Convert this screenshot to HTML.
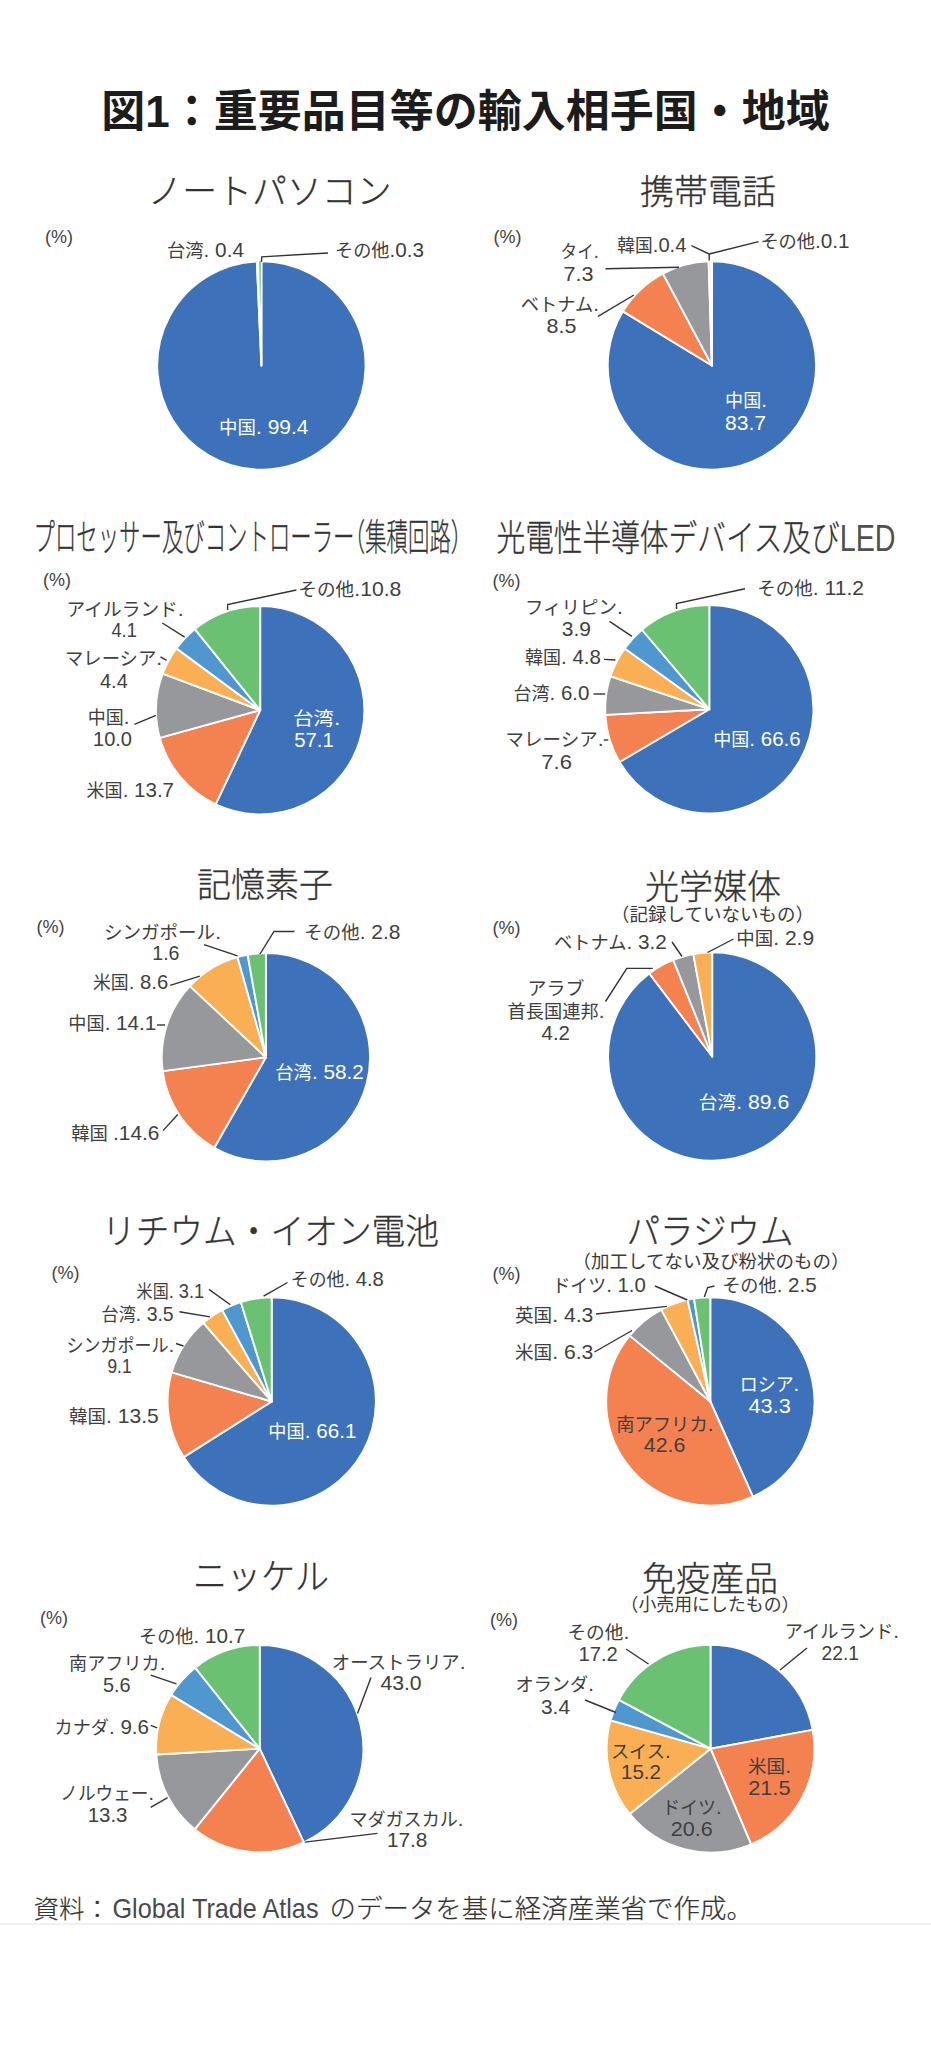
<!DOCTYPE html>
<html lang="ja"><head><meta charset="utf-8"><title>図1：重要品目等の輸入相手国・地域</title>
<style>
html,body{margin:0;padding:0;background:#fff}
body{width:931px;height:2048px;overflow:hidden;font-family:"Liberation Sans","Noto Sans CJK JP",sans-serif}
svg{display:block}
text{font-family:"Liberation Sans","Noto Sans CJK JP",sans-serif}
.h1{font-weight:700;font-size:44px;fill:#1c1c1c}
.tt{font-weight:300;fill:#333;stroke:#333;stroke-width:.3}
.sb{font-weight:400;fill:#3a3a3a}
.lb{font-weight:400}
.lb .c{font-size:18.5px;font-weight:400;stroke-width:0}
.lb .l{font-size:21px;stroke-width:0}
.pc{font-size:19px;fill:#444;font-weight:300}
.ld{fill:none;stroke:#333;stroke-width:1.4}
.ft{font-weight:300;fill:#333;stroke:#333;stroke-width:.2}
</style></head><body>
<svg width="931" height="2048" viewBox="0 0 931 2048">
<rect x="0" y="0" width="931" height="2048" fill="#fff"/>
<text x="465.5" y="127" text-anchor="middle" class="h1">図1：重要品目等の輸入相手国・地域</text>
<text x="269.5" y="204" text-anchor="middle" class="tt" font-size="35.5" textLength="244" lengthAdjust="spacingAndGlyphs">ノートパソコン</text>
<text x="45.0" y="242.7" class="pc" textLength="28" lengthAdjust="spacingAndGlyphs">(%)</text>
<g stroke="#fff" stroke-width="1.9" stroke-linejoin="round"><path d="M261.40 365.50 L261.40 261.35 A104.15 104.15 0 1 1 256.83 261.45 Z" fill="#3d71b9"/><path d="M261.40 365.50 L256.83 261.45 A104.15 104.15 0 0 1 259.44 261.37 Z" fill="#fff"/><path d="M261.40 365.50 L259.44 261.37 A104.15 104.15 0 0 1 261.40 261.35 Z" fill="#6bc172"/></g>
<polygon points="259.2,261.5 260.8,261.5 260.5,300 260.1,310" fill="#6bc172"/>
<polyline points="328,253 261.8,256.8 261.4,262" class="ld"/>
<text x="167.0" y="257" fill="#404040" stroke="#404040" class="lb" textLength="77.0" lengthAdjust="spacingAndGlyphs"><tspan class="c">台湾</tspan><tspan class="l">. 0.4</tspan></text>
<text x="335.0" y="257" fill="#404040" stroke="#404040" class="lb" textLength="89.0" lengthAdjust="spacingAndGlyphs"><tspan class="c">その他</tspan><tspan class="l">.0.3</tspan></text>
<text x="219.0" y="434" fill="#fff" stroke="#fff" class="lb" textLength="89.5" lengthAdjust="spacingAndGlyphs"><tspan class="c">中国</tspan><tspan class="l">. 99.4</tspan></text>
<text x="708" y="204" text-anchor="middle" class="tt" font-size="34">携帯電話</text>
<text x="493.5" y="242.7" class="pc" textLength="28" lengthAdjust="spacingAndGlyphs">(%)</text>
<g stroke="#fff" stroke-width="1.9" stroke-linejoin="round"><path d="M711.90 365.50 L711.90 261.35 A104.15 104.15 0 1 1 622.93 311.36 Z" fill="#3d71b9"/><path d="M711.90 365.50 L622.93 311.36 A104.15 104.15 0 0 1 662.88 273.61 Z" fill="#f48150"/><path d="M711.90 365.50 L662.88 273.61 A104.15 104.15 0 0 1 708.63 261.40 Z" fill="#97989c"/><path d="M711.90 365.50 L708.63 261.40 A104.15 104.15 0 0 1 711.25 261.35 Z" fill="#faaf55"/><path d="M711.90 365.50 L711.25 261.35 A104.15 104.15 0 0 1 711.90 261.35 Z" fill="#4f98cf"/></g>
<polyline points="605.5,268.8 679,267.3" class="ld"/>
<polyline points="691.5,245.6 709.2,254 709.2,260.4" class="ld"/>
<polyline points="758.6,241.6 709.2,254" class="ld"/>
<polyline points="598,316.3 634,295" class="ld"/>
<text x="560.6" y="258" fill="#404040" stroke="#404040" class="lb" textLength="38.4" lengthAdjust="spacingAndGlyphs"><tspan class="c">タイ</tspan><tspan class="l">.</tspan></text>
<text x="563.6" y="281" fill="#404040" stroke="#404040" class="lb" textLength="30.0" lengthAdjust="spacingAndGlyphs"><tspan class="l">7.3</tspan></text>
<text x="617.3" y="252" fill="#404040" stroke="#404040" class="lb" textLength="69.1" lengthAdjust="spacingAndGlyphs"><tspan class="c">韓国</tspan><tspan class="l">.0.4</tspan></text>
<text x="760.4" y="248" fill="#404040" stroke="#404040" class="lb" textLength="89.2" lengthAdjust="spacingAndGlyphs"><tspan class="c">その他</tspan><tspan class="l">.0.1</tspan></text>
<text x="520.7" y="311" fill="#404040" stroke="#404040" class="lb" textLength="78.3" lengthAdjust="spacingAndGlyphs"><tspan class="c">ベトナム</tspan><tspan class="l">.</tspan></text>
<text x="546.5" y="333" fill="#404040" stroke="#404040" class="lb" textLength="29.9" lengthAdjust="spacingAndGlyphs"><tspan class="l">8.5</tspan></text>
<text x="725.0" y="407" fill="#fff" stroke="#fff" class="lb" textLength="42.0" lengthAdjust="spacingAndGlyphs"><tspan class="c">中国</tspan><tspan class="l">.</tspan></text>
<text x="725.0" y="430" fill="#fff" stroke="#fff" class="lb" textLength="41.0" lengthAdjust="spacingAndGlyphs"><tspan class="l">83.7</tspan></text>
<text x="247.5" y="551" text-anchor="middle" class="tt" font-size="37" textLength="428" lengthAdjust="spacingAndGlyphs">プロセッサー及びコントローラー<tspan style="font-feature-settings:'halt'">（</tspan>集積回路<tspan style="font-feature-settings:'halt'">）</tspan></text>
<text x="43.0" y="585.7" class="pc" textLength="28" lengthAdjust="spacingAndGlyphs">(%)</text>
<g stroke="#fff" stroke-width="1.9" stroke-linejoin="round"><path d="M260.20 710.20 L260.20 606.05 A104.15 104.15 0 1 1 215.60 804.32 Z" fill="#3d71b9"/><path d="M260.20 710.20 L215.60 804.32 A104.15 104.15 0 0 1 159.78 737.81 Z" fill="#f48150"/><path d="M260.20 710.20 L159.78 737.81 A104.15 104.15 0 0 1 162.70 673.57 Z" fill="#97989c"/><path d="M260.20 710.20 L162.70 673.57 A104.15 104.15 0 0 1 176.38 648.38 Z" fill="#faaf55"/><path d="M260.20 710.20 L176.38 648.38 A104.15 104.15 0 0 1 194.88 629.08 Z" fill="#4f98cf"/><path d="M260.20 710.20 L194.88 629.08 A104.15 104.15 0 0 1 260.20 606.05 Z" fill="#6bc172"/></g>
<polyline points="296.4,590 227.6,604.5 227.6,610" class="ld"/>
<polyline points="162.3,623 184.7,637.2" class="ld"/>
<polyline points="160.5,656.8 166.6,660.4" class="ld"/>
<polyline points="134.4,724.3 156,715.3" class="ld"/>
<text x="298.3" y="596" fill="#404040" stroke="#404040" class="lb" textLength="103.1" lengthAdjust="spacingAndGlyphs"><tspan class="c">その他</tspan><tspan class="l">.10.8</tspan></text>
<text x="66.6" y="615.5" fill="#404040" stroke="#404040" class="lb" textLength="117.1" lengthAdjust="spacingAndGlyphs"><tspan class="c">アイルランド</tspan><tspan class="l">.</tspan></text>
<text x="111.5" y="636.5" fill="#404040" stroke="#404040" class="lb" textLength="25.3" lengthAdjust="spacingAndGlyphs"><tspan class="l">4.1</tspan></text>
<text x="65.0" y="665" fill="#404040" stroke="#404040" class="lb" textLength="97.0" lengthAdjust="spacingAndGlyphs"><tspan class="c">マレーシア</tspan><tspan class="l">.</tspan></text>
<text x="100.0" y="687.5" fill="#404040" stroke="#404040" class="lb" textLength="27.8" lengthAdjust="spacingAndGlyphs"><tspan class="l">4.4</tspan></text>
<text x="87.8" y="723.5" fill="#404040" stroke="#404040" class="lb" textLength="41.7" lengthAdjust="spacingAndGlyphs"><tspan class="c">中国</tspan><tspan class="l">.</tspan></text>
<text x="93.0" y="745.7" fill="#404040" stroke="#404040" class="lb" textLength="39.0" lengthAdjust="spacingAndGlyphs"><tspan class="l">10.0</tspan></text>
<text x="86.5" y="796.5" fill="#404040" stroke="#404040" class="lb" textLength="87.5" lengthAdjust="spacingAndGlyphs"><tspan class="c">米国</tspan><tspan class="l">. 13.7</tspan></text>
<text x="293.3" y="725" fill="#fff" stroke="#fff" class="lb" textLength="47.0" lengthAdjust="spacingAndGlyphs"><tspan class="c">台湾</tspan><tspan class="l">.</tspan></text>
<text x="294.3" y="747" fill="#fff" stroke="#fff" class="lb" textLength="39.5" lengthAdjust="spacingAndGlyphs"><tspan class="l">57.1</tspan></text>
<text x="696" y="551" text-anchor="middle" class="tt" font-size="36" textLength="399" lengthAdjust="spacingAndGlyphs">光電性半導体デバイス及び<tspan fill="#505050" stroke="none">LED</tspan></text>
<text x="492.5" y="586.7" class="pc" textLength="28" lengthAdjust="spacingAndGlyphs">(%)</text>
<g stroke="#fff" stroke-width="1.9" stroke-linejoin="round"><path d="M709.30 709.20 L709.30 605.05 A104.15 104.15 0 1 1 619.54 762.03 Z" fill="#3d71b9"/><path d="M709.30 709.20 L619.54 762.03 A104.15 104.15 0 0 1 605.31 714.92 Z" fill="#f48150"/><path d="M709.30 709.20 L605.31 714.92 A104.15 104.15 0 0 1 610.49 676.27 Z" fill="#97989c"/><path d="M709.30 709.20 L610.49 676.27 A104.15 104.15 0 0 1 624.72 648.43 Z" fill="#faaf55"/><path d="M709.30 709.20 L624.72 648.43 A104.15 104.15 0 0 1 641.96 629.74 Z" fill="#4f98cf"/><path d="M709.30 709.20 L641.96 629.74 A104.15 104.15 0 0 1 709.30 605.05 Z" fill="#6bc172"/></g>
<polyline points="745,588.8 676.5,603.5 676.5,609" class="ld"/>
<polyline points="609.5,621.4 631.9,636.3" class="ld"/>
<polyline points="604,659.4 615.4,660" class="ld"/>
<polyline points="593.5,694 605.2,694" class="ld"/>
<polyline points="603.8,740 608.3,740" class="ld"/>
<text x="757.2" y="595" fill="#404040" stroke="#404040" class="lb" textLength="106.8" lengthAdjust="spacingAndGlyphs"><tspan class="c">その他</tspan><tspan class="l">. 11.2</tspan></text>
<text x="525.0" y="614" fill="#404040" stroke="#404040" class="lb" textLength="97.8" lengthAdjust="spacingAndGlyphs"><tspan class="c">フィリピン</tspan><tspan class="l">.</tspan></text>
<text x="561.8" y="636" fill="#404040" stroke="#404040" class="lb" textLength="29.2" lengthAdjust="spacingAndGlyphs"><tspan class="l">3.9</tspan></text>
<text x="525.0" y="664.3" fill="#404040" stroke="#404040" class="lb" textLength="75.9" lengthAdjust="spacingAndGlyphs"><tspan class="c">韓国</tspan><tspan class="l">. 4.8</tspan></text>
<text x="513.5" y="700" fill="#404040" stroke="#404040" class="lb" textLength="75.9" lengthAdjust="spacingAndGlyphs"><tspan class="c">台湾</tspan><tspan class="l">. 6.0</tspan></text>
<text x="505.6" y="745.8" fill="#404040" stroke="#404040" class="lb" textLength="97.9" lengthAdjust="spacingAndGlyphs"><tspan class="c">マレーシア</tspan><tspan class="l">.</tspan></text>
<text x="541.3" y="769.4" fill="#404040" stroke="#404040" class="lb" textLength="30.6" lengthAdjust="spacingAndGlyphs"><tspan class="l">7.6</tspan></text>
<text x="713.2" y="746" fill="#fff" stroke="#fff" class="lb" textLength="87.5" lengthAdjust="spacingAndGlyphs"><tspan class="c">中国</tspan><tspan class="l">. 66.6</tspan></text>
<text x="265" y="897" text-anchor="middle" class="tt" font-size="34">記憶素子</text>
<text x="36.5" y="932.7" class="pc" textLength="28" lengthAdjust="spacingAndGlyphs">(%)</text>
<g stroke="#fff" stroke-width="1.9" stroke-linejoin="round"><path d="M265.90 1057.30 L265.90 953.15 A104.15 104.15 0 1 1 214.25 1147.74 Z" fill="#3d71b9"/><path d="M265.90 1057.30 L214.25 1147.74 A104.15 104.15 0 0 1 162.68 1071.18 Z" fill="#f48150"/><path d="M265.90 1057.30 L162.68 1071.18 A104.15 104.15 0 0 1 189.92 986.07 Z" fill="#97989c"/><path d="M265.90 1057.30 L189.92 986.07 A104.15 104.15 0 0 1 237.44 957.11 Z" fill="#faaf55"/><path d="M265.90 1057.30 L237.44 957.11 A104.15 104.15 0 0 1 247.65 954.76 Z" fill="#4f98cf"/><path d="M265.90 1057.30 L247.65 954.76 A104.15 104.15 0 0 1 265.90 953.15 Z" fill="#6bc172"/></g>
<polyline points="204,944.6 237.6,955.8" class="ld"/>
<polyline points="294.5,931.5 274,931.5 260,954" class="ld"/>
<polyline points="170.2,985.4 199.8,976.2" class="ld"/>
<polyline points="157,1025 165,1025" class="ld"/>
<polyline points="163,1130.6 177.8,1114.5" class="ld"/>
<text x="104.0" y="939" fill="#404040" stroke="#404040" class="lb" textLength="117.0" lengthAdjust="spacingAndGlyphs"><tspan class="c">シンガポール</tspan><tspan class="l">.</tspan></text>
<text x="152.3" y="960" fill="#404040" stroke="#404040" class="lb" textLength="27.2" lengthAdjust="spacingAndGlyphs"><tspan class="l">1.6</tspan></text>
<text x="304.3" y="938.5" fill="#404040" stroke="#404040" class="lb" textLength="96.1" lengthAdjust="spacingAndGlyphs"><tspan class="c">その他</tspan><tspan class="l">. 2.8</tspan></text>
<text x="93.0" y="989" fill="#404040" stroke="#404040" class="lb" textLength="75.2" lengthAdjust="spacingAndGlyphs"><tspan class="c">米国</tspan><tspan class="l">. 8.6</tspan></text>
<text x="68.3" y="1030" fill="#404040" stroke="#404040" class="lb" textLength="87.9" lengthAdjust="spacingAndGlyphs"><tspan class="c">中国</tspan><tspan class="l">. 14.1</tspan></text>
<text x="71.2" y="1140" fill="#404040" stroke="#404040" class="lb" textLength="88.2" lengthAdjust="spacingAndGlyphs"><tspan class="c">韓国 </tspan><tspan class="l">.14.6</tspan></text>
<text x="275.3" y="1079" fill="#fff" stroke="#fff" class="lb" textLength="88.6" lengthAdjust="spacingAndGlyphs"><tspan class="c">台湾</tspan><tspan class="l">. 58.2</tspan></text>
<text x="713" y="899" text-anchor="middle" class="tt" font-size="34">光学媒体</text>
<text x="712.5" y="921" text-anchor="middle" class="sb" font-size="18.5">（記録していないもの）</text>
<text x="492.5" y="933.7" class="pc" textLength="28" lengthAdjust="spacingAndGlyphs">(%)</text>
<g stroke="#fff" stroke-width="1.9" stroke-linejoin="round"><path d="M712.20 1056.50 L712.20 952.35 A104.15 104.15 0 1 1 649.35 973.45 Z" fill="#3d71b9"/><path d="M712.20 1056.50 L649.35 973.45 A104.15 104.15 0 0 1 673.22 959.92 Z" fill="#f48150"/><path d="M712.20 1056.50 L673.22 959.92 A104.15 104.15 0 0 1 693.31 954.08 Z" fill="#97989c"/><path d="M712.20 1056.50 L693.31 954.08 A104.15 104.15 0 0 1 712.20 952.35 Z" fill="#faaf55"/></g>
<polyline points="672,942 682,956.5" class="ld"/>
<polyline points="733.5,939 707.5,952.5" class="ld"/>
<polyline points="605.5,1001.5 626.8,968.4 652.8,968.4" class="ld"/>
<text x="554.0" y="949" fill="#404040" stroke="#404040" class="lb" textLength="112.8" lengthAdjust="spacingAndGlyphs"><tspan class="c">ベトナム</tspan><tspan class="l">. 3.2</tspan></text>
<text x="736.2" y="945" fill="#404040" stroke="#404040" class="lb" textLength="77.9" lengthAdjust="spacingAndGlyphs"><tspan class="c">中国</tspan><tspan class="l">. 2.9</tspan></text>
<text x="527.5" y="994.7" fill="#404040" stroke="#404040" class="lb" textLength="57.0" lengthAdjust="spacingAndGlyphs"><tspan class="c">アラブ</tspan></text>
<text x="507.5" y="1017.5" fill="#404040" stroke="#404040" class="lb" textLength="96.9" lengthAdjust="spacingAndGlyphs"><tspan class="c">首長国連邦</tspan><tspan class="l">.</tspan></text>
<text x="541.5" y="1040" fill="#404040" stroke="#404040" class="lb" textLength="28.5" lengthAdjust="spacingAndGlyphs"><tspan class="l">4.2</tspan></text>
<text x="698.8" y="1109" fill="#fff" stroke="#fff" class="lb" textLength="90.4" lengthAdjust="spacingAndGlyphs"><tspan class="c">台湾</tspan><tspan class="l">. 89.6</tspan></text>
<text x="270.5" y="1244" text-anchor="middle" class="tt" font-size="35.5" textLength="337" lengthAdjust="spacingAndGlyphs">リチウム・イオン電池</text>
<text x="51.5" y="1278.7" class="pc" textLength="28" lengthAdjust="spacingAndGlyphs">(%)</text>
<g stroke="#fff" stroke-width="1.9" stroke-linejoin="round"><path d="M271.70 1401.50 L271.70 1297.35 A104.15 104.15 0 1 1 183.64 1457.12 Z" fill="#3d71b9"/><path d="M271.70 1401.50 L183.64 1457.12 A104.15 104.15 0 0 1 171.72 1372.31 Z" fill="#f48150"/><path d="M271.70 1401.50 L171.72 1372.31 A104.15 104.15 0 0 1 203.37 1322.90 Z" fill="#97989c"/><path d="M271.70 1401.50 L203.37 1322.90 A104.15 104.15 0 0 1 222.15 1309.89 Z" fill="#faaf55"/><path d="M271.70 1401.50 L222.15 1309.89 A104.15 104.15 0 0 1 240.79 1302.04 Z" fill="#4f98cf"/><path d="M271.70 1401.50 L240.79 1302.04 A104.15 104.15 0 0 1 271.70 1297.35 Z" fill="#6bc172"/></g>
<polyline points="287.5,1282.5 263.6,1296.2" class="ld"/>
<polyline points="209,1289.4 230.4,1304.7" class="ld"/>
<polyline points="179.4,1311.8 210,1316.9" class="ld"/>
<polyline points="176,1343.5 183.5,1346" class="ld"/>
<text x="290.8" y="1286" fill="#404040" stroke="#404040" class="lb" textLength="93.1" lengthAdjust="spacingAndGlyphs"><tspan class="c">その他</tspan><tspan class="l">. 4.8</tspan></text>
<text x="136.6" y="1298" fill="#404040" stroke="#404040" class="lb" textLength="67.6" lengthAdjust="spacingAndGlyphs"><tspan class="c">米国</tspan><tspan class="l">. 3.1</tspan></text>
<text x="101.6" y="1321" fill="#404040" stroke="#404040" class="lb" textLength="72.1" lengthAdjust="spacingAndGlyphs"><tspan class="c">台湾</tspan><tspan class="l">. 3.5</tspan></text>
<text x="66.6" y="1351.5" fill="#404040" stroke="#404040" class="lb" textLength="107.4" lengthAdjust="spacingAndGlyphs"><tspan class="c">シンガポール</tspan><tspan class="l">.</tspan></text>
<text x="107.5" y="1373" fill="#404040" stroke="#404040" class="lb" textLength="24.0" lengthAdjust="spacingAndGlyphs"><tspan class="l">9.1</tspan></text>
<text x="69.0" y="1423" fill="#404040" stroke="#404040" class="lb" textLength="89.7" lengthAdjust="spacingAndGlyphs"><tspan class="c">韓国</tspan><tspan class="l">. 13.5</tspan></text>
<text x="268.3" y="1438" fill="#fff" stroke="#fff" class="lb" textLength="88.1" lengthAdjust="spacingAndGlyphs"><tspan class="c">中国</tspan><tspan class="l">. 66.1</tspan></text>
<text x="710" y="1244" text-anchor="middle" class="tt" font-size="35.5" textLength="167" lengthAdjust="spacingAndGlyphs">パラジウム</text>
<text x="711" y="1268" text-anchor="middle" class="sb" font-size="18.5">（加工してない及び粉状のもの）</text>
<text x="492.5" y="1279.7" class="pc" textLength="28" lengthAdjust="spacingAndGlyphs">(%)</text>
<g stroke="#fff" stroke-width="1.9" stroke-linejoin="round"><path d="M710.30 1401.50 L710.30 1297.35 A104.15 104.15 0 0 1 752.86 1496.56 Z" fill="#3d71b9"/><path d="M710.30 1401.50 L752.86 1496.56 A104.15 104.15 0 0 1 629.64 1335.62 Z" fill="#f48150"/><path d="M710.30 1401.50 L629.64 1335.62 A104.15 104.15 0 0 1 661.28 1309.61 Z" fill="#97989c"/><path d="M710.30 1401.50 L661.28 1309.61 A104.15 104.15 0 0 1 687.58 1299.86 Z" fill="#faaf55"/><path d="M710.30 1401.50 L687.58 1299.86 A104.15 104.15 0 0 1 694.01 1298.63 Z" fill="#4f98cf"/><path d="M710.30 1401.50 L694.01 1298.63 A104.15 104.15 0 0 1 710.30 1297.35 Z" fill="#6bc172"/></g>
<polyline points="655,1286 687.3,1300" class="ld"/>
<polyline points="714.5,1286 707.7,1287.5 704.3,1297" class="ld"/>
<polyline points="596,1314 667,1306.4" class="ld"/>
<polyline points="594.5,1352 632,1330.5" class="ld"/>
<text x="552.4" y="1292" fill="#404040" stroke="#404040" class="lb" textLength="93.4" lengthAdjust="spacingAndGlyphs"><tspan class="c">ドイツ</tspan><tspan class="l">. 1.0</tspan></text>
<text x="722.2" y="1292" fill="#404040" stroke="#404040" class="lb" textLength="94.5" lengthAdjust="spacingAndGlyphs"><tspan class="c">その他</tspan><tspan class="l">. 2.5</tspan></text>
<text x="515.0" y="1322" fill="#404040" stroke="#404040" class="lb" textLength="78.4" lengthAdjust="spacingAndGlyphs"><tspan class="c">英国</tspan><tspan class="l">. 4.3</tspan></text>
<text x="515.0" y="1359" fill="#404040" stroke="#404040" class="lb" textLength="78.4" lengthAdjust="spacingAndGlyphs"><tspan class="c">米国</tspan><tspan class="l">. 6.3</tspan></text>
<text x="739.7" y="1390.5" fill="#fff" stroke="#fff" class="lb" textLength="59.6" lengthAdjust="spacingAndGlyphs"><tspan class="c">ロシア</tspan><tspan class="l">.</tspan></text>
<text x="748.5" y="1412.7" fill="#fff" stroke="#fff" class="lb" textLength="42.3" lengthAdjust="spacingAndGlyphs"><tspan class="l">43.3</tspan></text>
<text x="616.2" y="1430.5" fill="#404040" stroke="#404040" class="lb" textLength="97.3" lengthAdjust="spacingAndGlyphs"><tspan class="c">南アフリカ</tspan><tspan class="l">.</tspan></text>
<text x="643.8" y="1452" fill="#404040" stroke="#404040" class="lb" textLength="41.5" lengthAdjust="spacingAndGlyphs"><tspan class="l">42.6</tspan></text>
<text x="261" y="1589" text-anchor="middle" class="tt" font-size="35.5" textLength="136" lengthAdjust="spacingAndGlyphs">ニッケル</text>
<text x="40.0" y="1623.7" class="pc" textLength="28" lengthAdjust="spacingAndGlyphs">(%)</text>
<g stroke="#fff" stroke-width="1.9" stroke-linejoin="round"><path d="M259.70 1748.70 L259.70 1645.10 A103.60 103.60 0 0 1 303.81 1842.44 Z" fill="#3d71b9"/><path d="M259.70 1748.70 L303.81 1842.44 A103.60 103.60 0 0 1 194.67 1829.35 Z" fill="#f48150"/><path d="M259.70 1748.70 L194.67 1829.35 A103.60 103.60 0 0 1 156.27 1754.56 Z" fill="#97989c"/><path d="M259.70 1748.70 L156.27 1754.56 A103.60 103.60 0 0 1 171.20 1694.85 Z" fill="#faaf55"/><path d="M259.70 1748.70 L171.20 1694.85 A103.60 103.60 0 0 1 195.18 1667.64 Z" fill="#4f98cf"/><path d="M259.70 1748.70 L195.18 1667.64 A103.60 103.60 0 0 1 259.70 1645.10 Z" fill="#6bc172"/></g>
<polyline points="371,1677.5 357.5,1713.5" class="ld"/>
<polyline points="150.7,1675.1 176.5,1683.8" class="ld"/>
<polyline points="150.7,1725.4 157.1,1727.8" class="ld"/>
<polyline points="150.7,1807.4 167.6,1797.7" class="ld"/>
<polyline points="377.4,1833.4 304.8,1842.1" class="ld"/>
<text x="139.0" y="1643" fill="#404040" stroke="#404040" class="lb" textLength="106.2" lengthAdjust="spacingAndGlyphs"><tspan class="c">その他</tspan><tspan class="l">. 10.7</tspan></text>
<text x="331.8" y="1669" fill="#404040" stroke="#404040" class="lb" textLength="133.7" lengthAdjust="spacingAndGlyphs"><tspan class="c">オーストラリア</tspan><tspan class="l">.</tspan></text>
<text x="380.4" y="1690" fill="#404040" stroke="#404040" class="lb" textLength="41.2" lengthAdjust="spacingAndGlyphs"><tspan class="l">43.0</tspan></text>
<text x="69.1" y="1670" fill="#404040" stroke="#404040" class="lb" textLength="96.3" lengthAdjust="spacingAndGlyphs"><tspan class="c">南アフリカ</tspan><tspan class="l">.</tspan></text>
<text x="103.0" y="1692.4" fill="#404040" stroke="#404040" class="lb" textLength="27.7" lengthAdjust="spacingAndGlyphs"><tspan class="l">5.6</tspan></text>
<text x="54.6" y="1734" fill="#404040" stroke="#404040" class="lb" textLength="94.4" lengthAdjust="spacingAndGlyphs"><tspan class="c">カナダ</tspan><tspan class="l">. 9.6</tspan></text>
<text x="60.3" y="1800" fill="#404040" stroke="#404040" class="lb" textLength="93.8" lengthAdjust="spacingAndGlyphs"><tspan class="c">ノルウェー</tspan><tspan class="l">.</tspan></text>
<text x="87.7" y="1821.7" fill="#404040" stroke="#404040" class="lb" textLength="39.8" lengthAdjust="spacingAndGlyphs"><tspan class="l">13.3</tspan></text>
<text x="349.4" y="1826" fill="#404040" stroke="#404040" class="lb" textLength="114.1" lengthAdjust="spacingAndGlyphs"><tspan class="c">マダガスカル</tspan><tspan class="l">.</tspan></text>
<text x="386.9" y="1847" fill="#404040" stroke="#404040" class="lb" textLength="40.5" lengthAdjust="spacingAndGlyphs"><tspan class="l">17.8</tspan></text>
<text x="710" y="1591" text-anchor="middle" class="tt" font-size="34">免疫産品</text>
<text x="710" y="1611" text-anchor="middle" class="sb" font-size="17.9">（小売用にしたもの）</text>
<text x="490.0" y="1625.7" class="pc" textLength="28" lengthAdjust="spacingAndGlyphs">(%)</text>
<g stroke="#fff" stroke-width="1.9" stroke-linejoin="round"><path d="M710.50 1748.70 L710.50 1644.85 A103.85 103.85 0 0 1 812.63 1729.88 Z" fill="#3d71b9"/><path d="M710.50 1748.70 L812.63 1729.88 A103.85 103.85 0 0 1 751.14 1844.27 Z" fill="#f48150"/><path d="M710.50 1748.70 L751.14 1844.27 A103.85 103.85 0 0 1 629.66 1813.89 Z" fill="#97989c"/><path d="M710.50 1748.70 L629.66 1813.89 A103.85 103.85 0 0 1 610.59 1720.35 Z" fill="#faaf55"/><path d="M710.50 1748.70 L610.59 1720.35 A103.85 103.85 0 0 1 618.87 1699.82 Z" fill="#4f98cf"/><path d="M710.50 1748.70 L618.87 1699.82 A103.85 103.85 0 0 1 710.50 1644.85 Z" fill="#6bc172"/></g>
<polyline points="807,1648 780,1670" class="ld"/>
<polyline points="626,1649 648.5,1664" class="ld"/>
<polyline points="585,1700 616,1712.5" class="ld"/>
<text x="784.7" y="1638.3" fill="#404040" stroke="#404040" class="lb" textLength="114.4" lengthAdjust="spacingAndGlyphs"><tspan class="c">アイルランド</tspan><tspan class="l">.</tspan></text>
<text x="821.5" y="1660" fill="#404040" stroke="#404040" class="lb" textLength="37.5" lengthAdjust="spacingAndGlyphs"><tspan class="l">22.1</tspan></text>
<text x="567.4" y="1639" fill="#404040" stroke="#404040" class="lb" textLength="61.9" lengthAdjust="spacingAndGlyphs"><tspan class="c">その他</tspan><tspan class="l">.</tspan></text>
<text x="578.5" y="1661" fill="#404040" stroke="#404040" class="lb" textLength="39.3" lengthAdjust="spacingAndGlyphs"><tspan class="l">17.2</tspan></text>
<text x="515.5" y="1691" fill="#404040" stroke="#404040" class="lb" textLength="78.5" lengthAdjust="spacingAndGlyphs"><tspan class="c">オランダ</tspan><tspan class="l">.</tspan></text>
<text x="541.0" y="1713.7" fill="#404040" stroke="#404040" class="lb" textLength="29.0" lengthAdjust="spacingAndGlyphs"><tspan class="l">3.4</tspan></text>
<text x="610.9" y="1758" fill="#404040" stroke="#404040" class="lb" textLength="59.9" lengthAdjust="spacingAndGlyphs"><tspan class="c">スイス</tspan><tspan class="l">.</tspan></text>
<text x="621.0" y="1778.7" fill="#404040" stroke="#404040" class="lb" textLength="40.0" lengthAdjust="spacingAndGlyphs"><tspan class="l">15.2</tspan></text>
<text x="748.0" y="1772.7" fill="#404040" stroke="#404040" class="lb" textLength="43.0" lengthAdjust="spacingAndGlyphs"><tspan class="c">米国</tspan><tspan class="l">.</tspan></text>
<text x="748.2" y="1794.5" fill="#404040" stroke="#404040" class="lb" textLength="42.3" lengthAdjust="spacingAndGlyphs"><tspan class="l">21.5</tspan></text>
<text x="662.3" y="1814" fill="#404040" stroke="#404040" class="lb" textLength="59.4" lengthAdjust="spacingAndGlyphs"><tspan class="c">ドイツ</tspan><tspan class="l">.</tspan></text>
<text x="670.8" y="1836" fill="#404040" stroke="#404040" class="lb" textLength="42.0" lengthAdjust="spacingAndGlyphs"><tspan class="l">20.6</tspan></text>
<text x="33.5" y="1917.5" class="ft" font-size="25.5">資料：</text>
<text x="112.5" y="1917.8" class="ft" font-size="28.5" textLength="206" lengthAdjust="spacingAndGlyphs" style="fill:#4a4a4a;stroke:none">Global Trade Atlas</text>
<text x="329.5" y="1917.5" class="ft" font-size="26" textLength="397" lengthAdjust="spacingAndGlyphs">のデータを基に経済産業省で作成</text>
<text x="726.5" y="1917.5" class="ft" font-size="26" style="font-feature-settings:'halt'">。</text>
<rect x="0" y="1923.5" width="931" height="1" fill="#e4e4e4"/>
</svg>
</body></html>
